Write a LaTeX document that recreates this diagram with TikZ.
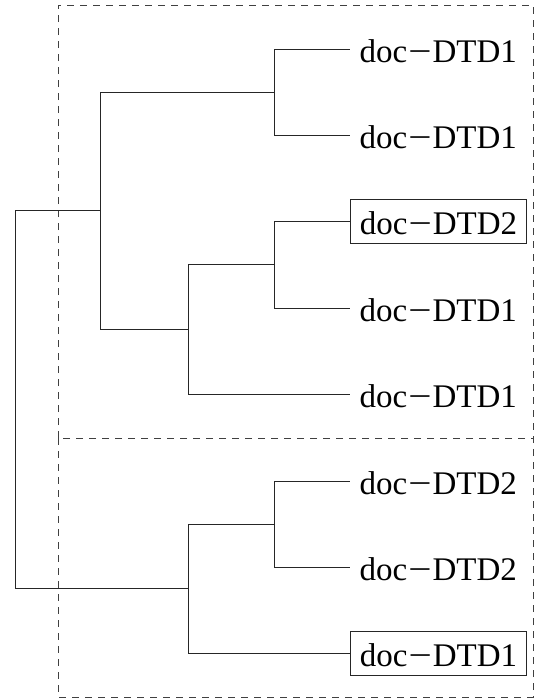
\documentclass[tikz,border=0pt]{standalone}
\usepackage{fontspec}
\setmainfont{Liberation Serif}
\newcommand\leaffont{\fontsize{33}{38}\selectfont}
\newcommand\lbl[1]{doc{\kern1pt\scalebox{1.25}[1]{−}\kern1pt}DTD#1}
\begin{document}
\begin{tikzpicture}[x=1pt,y=-1pt,
  leaf/.style={anchor=west, inner xsep=9.5pt, inner ysep=9pt, text height=26pt, text depth=0pt, font=\leaffont},
  boxed/.style={draw, line width=0.9pt, draw=black!85},
  branch/.style={line width=1pt, draw=black!85},
  group/.style={draw=black!75, line width=0.9pt, dash pattern=on 7pt off 6pt}]
\useasboundingbox (0,0) rectangle (539,699);
% dashed groups
\draw[group] (58,438) -- (58,5) -- (533,5) -- (533,438);
\draw[group] (58,438) rectangle (533,697);
% leaves
\node[leaf] (l1) at (350,49) {\lbl{1}};
\node[leaf] (l2) at (350,135) {\lbl{1}};
\node[leaf,boxed] (l3) at (350,221.5) {\lbl{2}};
\node[leaf] (l4) at (350,308) {\lbl{1}};
\node[leaf] (l5) at (350,394) {\lbl{1}};
\node[leaf] (l6) at (350,481) {\lbl{2}};
\node[leaf] (l7) at (350,567) {\lbl{2}};
\node[leaf,boxed] (l8) at (350,653.5) {\lbl{1}};
% internal nodes
\coordinate (n1) at (274,92);
\coordinate (n2) at (274,264.75);
\coordinate (n3) at (188,329.4);
\coordinate (n4) at (100.5,210.7);
\coordinate (n5) at (274,524);
\coordinate (n6) at (188,588.75);
\coordinate (root) at (15,399.7);
% branches
\draw[branch] (n1) |- (l1.west);
\draw[branch] (n1) |- (l2.west);
\draw[branch] (n2) |- (l3.west);
\draw[branch] (n2) |- (l4.west);
\draw[branch] (n3) |- (n2);
\draw[branch] (n3) |- (l5.west);
\draw[branch] (n4) |- (n1);
\draw[branch] (n4) |- (n3);
\draw[branch] (n5) |- (l6.west);
\draw[branch] (n5) |- (l7.west);
\draw[branch] (n6) |- (n5);
\draw[branch] (n6) |- (l8.west);
\draw[branch] (root) |- (n4);
\draw[branch] (root) |- (n6);
\end{tikzpicture}
\end{document}
